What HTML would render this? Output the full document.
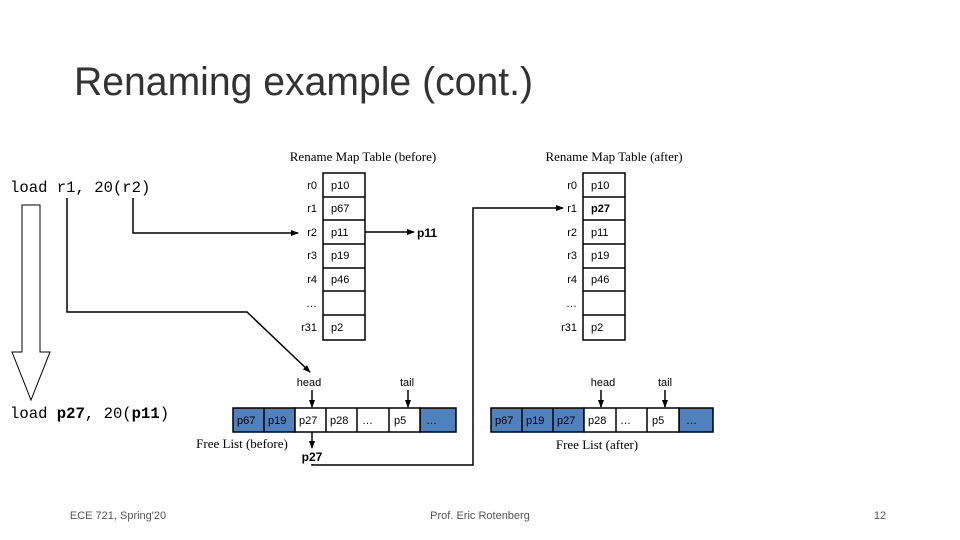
<!DOCTYPE html>
<html><head><meta charset="utf-8"><style>
body{margin:0;background:#fff;width:960px;height:540px;overflow:hidden}
svg{display:block}
</style></head><body>
<svg width="960" height="540" viewBox="0 0 960 540" xmlns="http://www.w3.org/2000/svg">
<defs><marker id="a" markerWidth="8" markerHeight="8" refX="7" refY="4" orient="auto" markerUnits="userSpaceOnUse"><path d="M0,1 L8,4 L0,7 Z" fill="#000"/></marker></defs>
<text x="74" y="95" font-family="Liberation Sans, sans-serif" font-size="40" fill="#333" textLength="459" lengthAdjust="spacingAndGlyphs">Renaming example (cont.)</text>
<g font-family="Liberation Serif, serif" font-size="13">
<text x="363" y="161" text-anchor="middle">Rename Map Table (before)</text>
<text x="614" y="161" text-anchor="middle">Rename Map Table (after)</text>
<text x="242" y="448" text-anchor="middle">Free List (before)</text>
<text x="597" y="449" text-anchor="middle">Free List (after)</text>
</g>
<g font-family="Liberation Mono, monospace" font-size="15.6">
<text x="10" y="192">load r1, 20(r2)</text>
<text x="10" y="418">load <tspan font-weight="bold">p27</tspan>, 20(<tspan font-weight="bold">p11</tspan>)</text>
</g>
<polygon points="22,205 40,205 40,352 50,352 31,400 12,352 22,352" fill="#fff" stroke="#000" stroke-width="1"/>
<g font-family="Liberation Sans, sans-serif" font-size="11">
<rect x="323" y="173" width="42" height="167" fill="#fff" stroke="#000" stroke-width="1.5"/>
<g stroke="#000" stroke-width="1.5"><line x1="323" y1="197" x2="365" y2="197"/><line x1="323" y1="220" x2="365" y2="220"/><line x1="323" y1="244" x2="365" y2="244"/><line x1="323" y1="268" x2="365" y2="268"/><line x1="323" y1="291" x2="365" y2="291"/><line x1="323" y1="315" x2="365" y2="315"/></g>
<g text-anchor="end"><text x="317" y="189">r0</text><text x="317" y="212">r1</text><text x="317" y="236">r2</text><text x="317" y="259">r3</text><text x="317" y="283">r4</text><text x="317" y="307">…</text><text x="317" y="331">r31</text></g>
<text x="331" y="189">p10</text><text x="331" y="212">p67</text><text x="331" y="236">p11</text><text x="331" y="259">p19</text><text x="331" y="283">p46</text><text x="331" y="331">p2</text>
<rect x="583" y="173" width="42" height="167" fill="#fff" stroke="#000" stroke-width="1.5"/>
<g stroke="#000" stroke-width="1.5"><line x1="583" y1="197" x2="625" y2="197"/><line x1="583" y1="220" x2="625" y2="220"/><line x1="583" y1="244" x2="625" y2="244"/><line x1="583" y1="268" x2="625" y2="268"/><line x1="583" y1="291" x2="625" y2="291"/><line x1="583" y1="315" x2="625" y2="315"/></g>
<g text-anchor="end"><text x="577" y="189">r0</text><text x="577" y="212">r1</text><text x="577" y="236">r2</text><text x="577" y="259">r3</text><text x="577" y="283">r4</text><text x="577" y="307">…</text><text x="577" y="331">r31</text></g>
<text x="591" y="189">p10</text><text x="591" y="212" font-weight="bold">p27</text><text x="591" y="236">p11</text><text x="591" y="259">p19</text><text x="591" y="283">p46</text><text x="591" y="331">p2</text>
<text x="417" y="237" font-weight="bold" font-size="12">p11</text>
<text x="312" y="461" font-weight="bold" font-size="12" text-anchor="middle">p27</text>
<g stroke="#000" stroke-width="1.5">
<rect x="233" y="408" width="62" height="24" fill="#4f81bd"/><rect x="420" y="408" width="36" height="24" fill="#4f81bd"/>
<rect x="295" y="408" width="125" height="24" fill="#fff"/>
<line x1="264" y1="408" x2="264" y2="432"/><line x1="326" y1="408" x2="326" y2="432"/><line x1="357" y1="408" x2="357" y2="432"/><line x1="389" y1="408" x2="389" y2="432"/>
<rect x="491" y="408" width="93" height="24" fill="#4f81bd"/><rect x="679" y="408" width="34" height="24" fill="#4f81bd"/>
<rect x="584" y="408" width="95" height="24" fill="#fff"/>
<line x1="522" y1="408" x2="522" y2="432"/><line x1="553" y1="408" x2="553" y2="432"/><line x1="616" y1="408" x2="616" y2="432"/><line x1="647" y1="408" x2="647" y2="432"/>
</g>
<text x="237" y="424">p67</text><text x="268" y="424">p19</text><text x="299" y="424">p27</text><text x="330" y="424">p28</text><text x="362" y="424">…</text><text x="394" y="424">p5</text><text x="426" y="424">…</text>
<text x="495" y="424">p67</text><text x="526" y="424">p19</text><text x="557" y="424">p27</text><text x="588" y="424">p28</text><text x="620" y="424">…</text><text x="652" y="424">p5</text><text x="686" y="424">…</text>
<g text-anchor="middle"><text x="309" y="386">head</text><text x="407" y="386">tail</text><text x="603" y="386">head</text><text x="665" y="386">tail</text></g>
</g>
<g stroke="#000" stroke-width="1.5" fill="none">
<polyline points="133,198 133,233 298,233" marker-end="url(#a)"/>
<polyline points="67,198 67,312 247,312 310,372" marker-end="url(#a)"/>
<line x1="365" y1="232" x2="414" y2="232" marker-end="url(#a)"/>
<line x1="312" y1="432" x2="312" y2="448" marker-end="url(#a)"/>
<polyline points="312,464 312,465 473,465 473,208 563,208" marker-end="url(#a)"/>
<line x1="312" y1="390" x2="312" y2="407" marker-end="url(#a)"/>
<line x1="408" y1="390" x2="408" y2="407" marker-end="url(#a)"/>
<line x1="601" y1="390" x2="601" y2="407" marker-end="url(#a)"/>
<line x1="665" y1="390" x2="665" y2="407" marker-end="url(#a)"/>
</g>
<g font-family="Liberation Sans, sans-serif" font-size="11" fill="#555">
<text x="118" y="519" text-anchor="middle">ECE 721, Spring'20</text>
<text x="480" y="519" text-anchor="middle">Prof. Eric Rotenberg</text>
<text x="880" y="519" text-anchor="middle">12</text>
</g>
</svg>
</body></html>
